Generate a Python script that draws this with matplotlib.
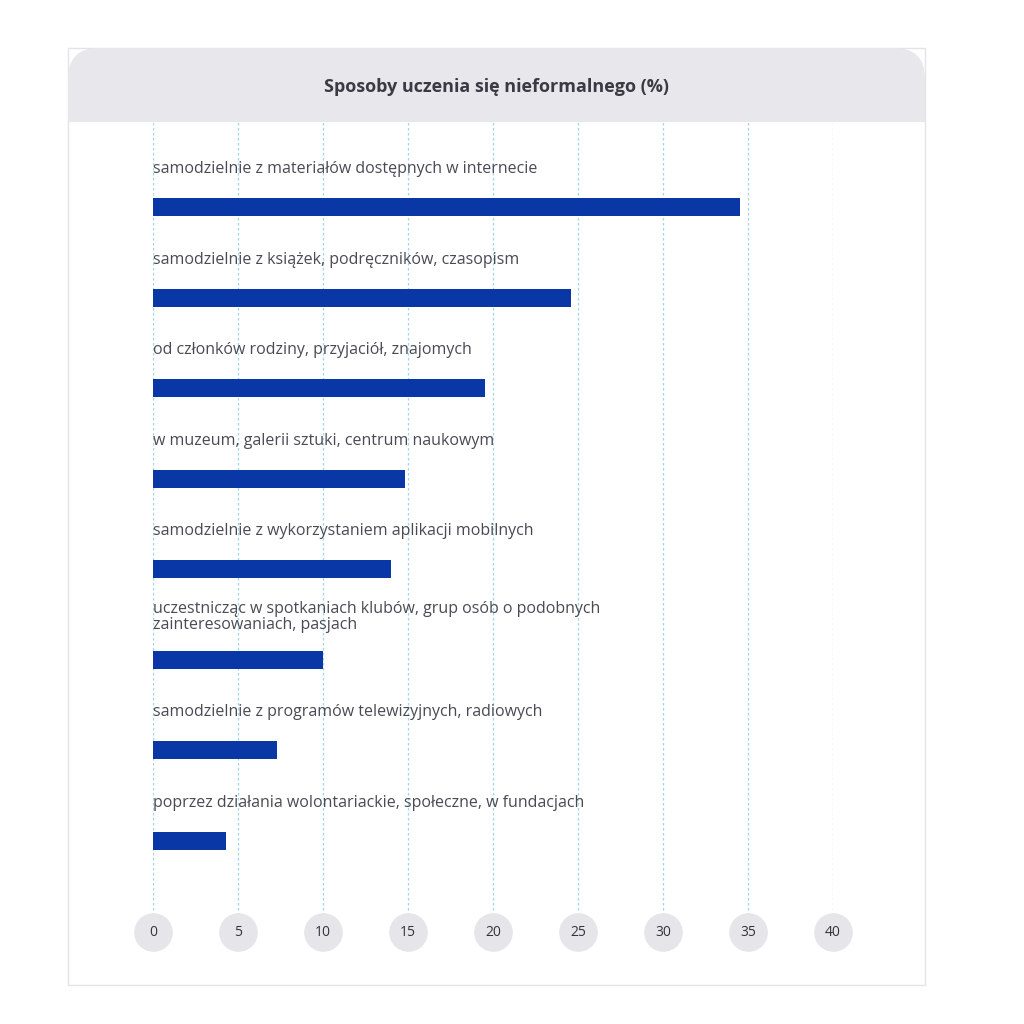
import matplotlib
matplotlib.use('Agg')
import matplotlib.pyplot as plt
from matplotlib.patches import Rectangle, FancyBboxPatch
from matplotlib.transforms import blended_transform_factory

categories = [
    'samodzielnie z materiałów dostępnych w internecie',
    'samodzielnie z książek, podręczników, czasopism',
    'od członków rodziny, przyjaciół, znajomych',
    'w muzeum, galerii sztuki, centrum naukowym',
    'samodzielnie z wykorzystaniem aplikacji mobilnych',
    'uczestnicząc w spotkaniach klubów, grup osób o podobnych\nzainteresowaniach, pasjach',
    'samodzielnie z programów telewizyjnych, radiowych',
    'poprzez działania wolontariackie, społeczne, w fundacjach',
]
values = [34.5, 24.6, 19.5, 14.8, 14.0, 10.0, 7.3, 4.3]
ticks = [0, 5, 10, 15, 20, 25, 30, 35, 40]
title = 'Sposoby uczenia się nieformalnego (%)'

plt.rcParams['font.family'] = ['Open Sans', 'DejaVu Sans']
W = H = 1024
fig = plt.figure(figsize=(10.24, 10.24), dpi=100)
fig.patch.set_facecolor('white')

def fx(p): return p / W
def fy(p): return 1 - p / H

# card + header
fig.patches.append(Rectangle((fx(68), fy(985)), fx(925 - 68), (985 - 48) / H,
                             transform=fig.transFigure, facecolor='white',
                             edgecolor='#e4e4e8', lw=1, zorder=-2))
fig.patches.append(FancyBboxPatch((fx(68), fy(122)), fx(925 - 68), (122 - 48) / H,
                                  boxstyle='round,pad=0,rounding_size=0.03',
                                  transform=fig.transFigure, facecolor='#e8e8ec',
                                  edgecolor='none', zorder=-1))
fig.patches.append(Rectangle((fx(68), fy(122)), fx(925 - 68), 40 / H,
                             transform=fig.transFigure, facecolor='#e8e8ec',
                             edgecolor='none', zorder=-1))
fig.text(fx(496), fy(87), title, ha='center', va='center', fontsize=13,
         fontweight='bold', color='#3a3a45')

ax = fig.add_axes([fx(153), fy(915), fx(833 - 153), (915 - 122) / H])
ax.set_zorder(5)
ax.set_facecolor('none')
ax.set_xlim(0, 40)
ax.set_ylim(7.82, -0.94)
for s in ax.spines.values():
    s.set_visible(False)
ax.set_xticks([]); ax.set_yticks([])
for t in ticks:
    ax.axvline(t, color='#9fd6ea', lw=0.9, ls=(0, (2, 2)), zorder=0)

idx = list(range(len(values)))
ax.barh(idx, values, height=0.2, color='#0a37a6', zorder=2)
for i, lab in zip(idx, categories):
    off = 0.47 if '\n' in lab else 0.42
    ax.text(0, i - off, lab, ha='left', va='center', fontsize=11.5,
            color='#4a4a55', linespacing=1.05)

tr = blended_transform_factory(ax.transData, fig.transFigure)
ax.scatter(ticks, [fy(932)] * len(ticks), s=720, color='#e6e6ea',
           transform=tr, clip_on=False, zorder=3)
for t in ticks:
    ax.text(t, fy(932), str(t), transform=tr, ha='center', va='center',
            fontsize=10, color='#333340', zorder=4)

fig.savefig('out.png', dpi=100, facecolor='white')
